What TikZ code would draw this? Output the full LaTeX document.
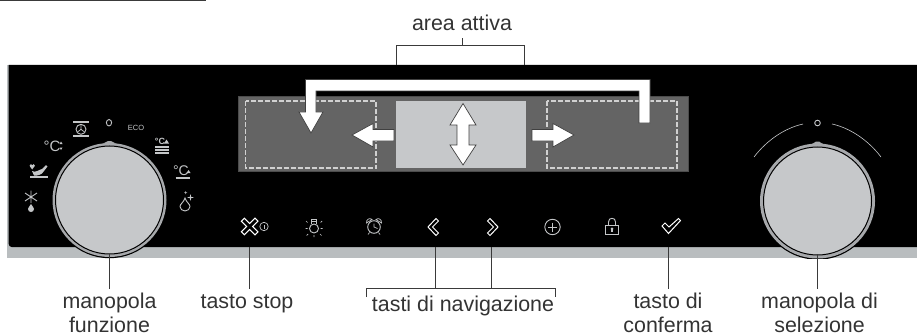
\documentclass[tikz,border=0pt]{standalone}
\usepackage{fontspec}
\setmainfont{Liberation Sans}
\usetikzlibrary{calc}
\definecolor{stripgray}{HTML}{B9BDBF}
\definecolor{displaygray}{HTML}{646464}
\definecolor{knobgray}{HTML}{C6C8CA}
\definecolor{ringgray}{HTML}{A7A9AC}
\definecolor{icongray}{HTML}{C4C6C8}
\definecolor{leadgray}{HTML}{3A3A3A}
\definecolor{textdark}{HTML}{333333}
\tikzset{
  lbl/.style={text=textdark,font=\fontsize{21.4}{25}\selectfont,anchor=base,inner sep=0pt},
  lead/.style={draw=leadgray,line width=0.9pt},
  arrowshape/.style={fill=white,draw=black!75,line width=0.7pt,line join=miter},
  dashbox/.style={draw=black!18,line width=1.1pt,dash pattern=on 5pt off 2pt},
  iconline/.style={draw=icongray,line width=0.9pt},
  iconthin/.style={draw=icongray,line width=0.7pt},
  iconthick/.style={draw=icongray,line width=1.2pt},
  icontext/.style={text=icongray,inner sep=0pt},
  keyline/.style={draw=white,line width=1pt,line join=miter},
}
\begin{document}
\begin{tikzpicture}[x=1pt,y=-1pt]
\useasboundingbox (0,0) rectangle (917,334);
% rule at top
\draw[draw=leadgray,line width=1pt] (0,1) coordinate (ruleL) -- (206,1) coordinate (ruleR);
% panel
\fill[stripgray] (7,65) rectangle (917,258);
\fill[black] (8.7,65) -- (917,65) -- (917,247) -- (11.7,247) .. controls (10,247) and (8.7,245.7) .. (8.7,244) -- cycle;
% display
\fill[displaygray] (238,96) rectangle (688,171);
\draw[black!70,line width=0.5pt] (238,96) rectangle (688,171);
\draw[dashbox] (245.5,101) rectangle (376,168);
\draw[dashbox] (547,101) rectangle (677,168);
\fill[knobgray] (396,101) rectangle (526,168);
% arrows
\draw[arrowshape] (650,123) -- (650,79.5) -- (305.5,79.5) -- (305.5,112) -- (299,112) -- (311,133) -- (323,112) -- (316,112) -- (316,91) -- (639,91) -- (639,123) -- cycle;
\draw[arrowshape] (394,129.5) -- (373,129.5) -- (373,123.5) -- (352,135) -- (373,147) -- (373,141) -- (394,141) -- cycle;
\draw[arrowshape] (532,129.5) -- (553,129.5) -- (553,123.5) -- (574,135) -- (553,147) -- (553,141) -- (532,141) -- cycle;
\draw[arrowshape] (463,103.5) -- (476,125) -- (469,125) -- (469,145) -- (476,145) -- (463,165) -- (450,145) -- (457,145) -- (457,125) -- (450,125) -- cycle;
% knobs
\begin{scope}
\clip (0,0) rectangle (917,258);
\fill[black] (109.5,200) circle[radius=58.2];
\fill[ringgray] (109.5,200) circle[radius=57];
\fill[ringgray] (103,143.5) .. controls (106,143) and (106.5,141) .. (108,141) -- (111,141) .. controls (112.5,141) and (113,143) .. (116,143.5) -- cycle;
\fill[knobgray,draw=black,line width=1pt] (109.5,200) circle[radius=54];
\fill[black] (817.5,201) circle[radius=58.7];
\fill[ringgray] (817.5,201) circle[radius=57.5];
\fill[ringgray] (811,144.5) .. controls (814,144) and (814.5,141.5) .. (816,141.5) -- (819,141.5) .. controls (820.5,141.5) and (821,144) .. (824,144.5) -- cycle;
\fill[knobgray,draw=black,line width=1pt] (817.5,201) circle[radius=54];
\end{scope}
% top bracket + label
\node[lbl] (attiva) at (462,31) {area attiva};
\coordinate (brTop) at (462,45);
\draw[lead] (396,65) coordinate (brL) |- (524,45) coordinate (brR) -- (524,65);
\draw[lead] (brTop) -- (462,38);
% labels
\node[lbl] (mf1) at (109.5,308) {manopola};
\node[lbl] (mf2) at (109.5,332) {funzione};
\node[lbl] (ts) at (247,308) {tasto stop};
\node[lbl] (nav) at (463,311) {tasti di navigazione};
\node[lbl] (tc1) at (668,308) {tasto di};
\node[lbl] (tc2) at (668,332) {conferma};
\node[lbl] (ms1) at (819.5,308) {manopola di};
\node[lbl] (ms2) at (819.5,332) {selezione};
% leaders
\coordinate (kL) at (109.5,254);
\coordinate (kLe) at (109.5,289);
\draw[lead] (kL) -- (kLe);
\coordinate (stA) at (249,247);
\coordinate (stB) at (249,289);
\draw[lead] (stA) -- (stB);
\coordinate (cA) at (668,247);
\coordinate (cB) at (668,289);
\draw[lead] (cA) -- (cB);
\coordinate (kR) at (817.5,254);
\coordinate (kRe) at (817.5,289);
\draw[lead] (kR) -- (kRe);
\coordinate (nA) at (435,247);
\coordinate (nB) at (491,247);
\coordinate (nC) at (435,288.7);
\coordinate (nD) at (491,288.7);
\draw[lead] (nA) -- (nC);
\draw[lead] (nB) -- (nD);
\draw[lead] (366,297) -- (366,288.7) -- (555,288.7) -- (555,297);
% dial marks, right
\draw[icongray,line width=0.6pt] (754,157) .. controls (767,140) and (785,128) .. (803,124);
\draw[icongray,line width=0.6pt] (832,124) .. controls (850,128) and (868,140) .. (881,157);
\draw[iconline] (817.5,123) circle[radius=2.8];
% dial marks, left
\draw[iconline] (109,122.7) ellipse[x radius=2.6,y radius=3.2];
\draw[iconthick] (73,122) -- (89,122) (73,136) -- (89,136);
\draw[iconline] (81,129.3) circle[radius=5];
\draw[iconthin] (81,129.3) -- (81,125) (81,129.3) -- (77.5,132) (81,129.3) -- (84.5,132);
\node[icontext,font=\fontsize{7.5}{8}\selectfont] (eco) at (136,127.7) {ECO};
\node[icontext,font=\fontsize{15}{15}\selectfont] (deg1) at (52,146) {°C};
\fill[icongray] (61,141.5) -- (62.5,144) -- (59.5,144) -- cycle (61,150) -- (62.5,147.5) -- (59.5,147.5) -- cycle;
% chicken
\fill[icongray] (32,171) .. controls (36,173) and (38,170) .. (42,169) -- (46,165) -- (47.5,166.5) -- (44,171) .. controls (42,175) and (37,176) .. (34,175.5) -- cycle;
\fill[icongray] (31,165.5) circle[radius=1.4] (33.4,165.5) circle[radius=1.4];
\fill[icongray] (29.8,166.2) -- (34.6,166.2) -- (32.2,169.5) -- cycle;
\draw[iconthick] (30,177) -- (48,177);
% defrost
\draw[iconline] (31,190.5) -- (31,203) (25,193) -- (37,201) (25,201) -- (37,193);
\fill[icongray] (31,204) .. controls (32,206.5) and (34,207) .. (34,209) .. controls (34,211) and (32.5,212) .. (31,212) .. controls (29.5,212) and (28,211) .. (28,209) .. controls (28,207) and (30,206.5) .. (31,204) -- cycle;
% right of dial
\node[icontext,font=\fontsize{9}{9}\selectfont\bfseries] (deg2) at (160,141.5) {°C};
\fill[icongray] (166.5,139.5) -- (169,143.5) -- (164,143.5) -- cycle;
\draw[iconthick] (155,147) -- (169,147) (155,150) -- (169,150) (155,153) -- (169,153);
\node[icontext,font=\fontsize{14}{14}\selectfont] (deg3) at (181,171) {°C};
\fill[icongray] (188.5,170) -- (190.5,173) -- (186.5,173) -- cycle;
\draw[iconthick] (175.5,178) -- (190,178);
% drop + sparkles
\draw[iconline] (185,198) .. controls (186,202) and (190,204) .. (190,206.5) .. controls (190,209) and (187.5,211) .. (185,211) .. controls (182.5,211) and (180,209) .. (180,206.5) .. controls (180,204) and (184,202) .. (185,198) -- cycle;
\fill[icongray] (190.5,194) -- (191.1,196.9) -- (194,197.5) -- (191.1,198.1) -- (190.5,201) -- (189.9,198.1) -- (187,197.5) -- (189.9,196.9) -- cycle;
\fill[icongray] (185.7,191) -- (186.1,192.3) -- (187.4,192.7) -- (186.1,193.1) -- (185.7,194.4) -- (185.3,193.1) -- (184,192.7) -- (185.3,192.3) -- cycle;
% keys: stop cross
\draw[keyline] (249.7,223.5) -- (255,218.2) -- (258,221.2) -- (252.7,226.5) -- (258,231.8) -- (255,234.8) -- (249.7,229.5) -- (244.4,234.8) -- (241.4,231.8) -- (246.7,226.5) -- (241.4,221.2) -- (244.4,218.2) -- cycle;
\draw[iconthin] (264,226.5) circle[radius=4.2];
\draw[iconthin] (264,224.5) -- (264,228.5);
% bulb
\draw[iconline] (314,228.5) circle[radius=4.5];
\draw[iconthin] (311.5,224) -- (311.5,219.5) -- (316.5,219.5) -- (316.5,224) (311.5,221.5) -- (316.5,221.5);
\draw[iconthin] (314,235) -- (314,237) (307.5,222.5) -- (306,221) (320.5,222.5) -- (322,221) (305.5,228.5) -- (307.5,228.5) (320.5,228.5) -- (322.5,228.5) (308,234) -- (306.5,235.5) (320,234) -- (321.5,235.5);
% alarm
\draw[iconline] (374,227) circle[radius=6.3];
\draw[iconthin] (374,223.5) -- (374,227) -- (377.5,228.5);
\draw[iconthin] (366.5,223) .. controls (366,219) and (370,217.5) .. (372,219.5) -- cycle;
\draw[iconthin] (381.5,223) .. controls (382,219) and (378,217.5) .. (376,219.5) -- cycle;
\draw[iconthin] (369.5,232.5) -- (368,234.5) (378.5,232.5) -- (380,234.5);
% chevrons
\draw[keyline] (436,218.5) -- (438.5,221) -- (432.5,227) -- (438.5,233) -- (436,235.5) -- (428,227) -- cycle;
\draw[keyline] (490,218.5) -- (487.5,221) -- (493.5,227) -- (487.5,233) -- (490,235.5) -- (498,227) -- cycle;
% plus
\draw[iconline] (552.5,227) circle[radius=7.7];
\draw[iconline] (548,227) -- (557,227) (552.5,222.5) -- (552.5,231.5);
% lock
\draw[iconline] (605.5,225) rectangle (618.5,234.5);
\draw[iconline] (608.5,225) -- (608.5,222) .. controls (608.5,219.5) and (610,218.3) .. (612,218.3) .. controls (614,218.3) and (615.5,219.5) .. (615.5,222) -- (615.5,225);
\fill[icongray] (612,228.8) circle[radius=1.5];
\fill[icongray] (611.3,229) rectangle (612.7,232.3);
% check
\draw[keyline] (662,226) -- (665,223) -- (669,227) -- (678.5,218.5) -- (680.5,220.5) -- (668.5,233.5) -- cycle;
\end{tikzpicture}
\end{document}
